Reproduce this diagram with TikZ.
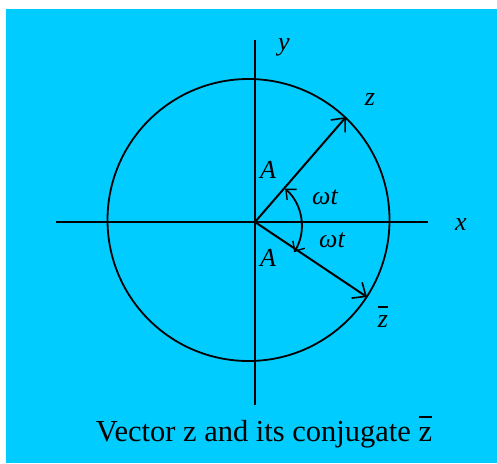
\documentclass[tikz,border=0pt]{standalone}
\usepackage{fontspec}
\setmainfont{Liberation Serif}
\usetikzlibrary{arrows.meta,calc}
\definecolor{bgcyan}{HTML}{00CCFF}
\newcommand\myzbar{\ooalign{z\cr\hidewidth\raisebox{0.78em}{\rule{0.42em}{0.05em}}\hidewidth\cr}}
\begin{document}
\begin{tikzpicture}[x=1pt,y=-1pt,
  axis/.style={line width=2.2pt,black},
  vec/.style={line width=2pt,black,-{Straight Barb[length=11pt,width=19pt,line width=1.6pt]}},
  lbl/.style={font=\fontsize{26}{28}\selectfont\itshape,inner sep=0pt,text=black},
  captext/.style={font=\fontsize{30.5}{32}\selectfont,inner sep=0pt,text=black}]
\useasboundingbox (0,0) rectangle (497,463);
\fill[white] (0,0) rectangle (497,463);
\fill[bgcyan] (6,9) rectangle (497,463);
\coordinate (O) at (255,222);
\coordinate (C) at (248.5,220);
\coordinate (XL) at (56,222);
\coordinate (XR) at (428,222);
\coordinate (YT) at (255,40);
\coordinate (YB) at (255,405);
\coordinate (Z) at (346,117);
\coordinate (Zb) at (367,297);
\draw[line width=1.8pt] (C) circle[radius=141];
\draw[axis] (XL) -- (XR);
\draw[axis] (YT) -- (YB);
\draw[vec] (O) -- (Z);
\draw[vec] (O) -- (Zb);
\draw[line width=1.8pt,{Straight Barb[length=8pt,width=14pt,line width=1.4pt]}-{Straight Barb[length=8pt,width=14pt,line width=1.4pt]}]
  ($(O)+(-48:45)$) arc[start angle=-48, end angle=32, radius=50];
\node[lbl] (lx) at (461,225) {x};
\node[lbl] (ly) at (284,47) {y};
\node[lbl] (lz) at (370,100) {z};
\node[lbl] (lzb) at (383,322) {\myzbar};
\node[lbl] (la1) at (268,170) {A};
\node[lbl] (la2) at (268,258) {A};
\node[lbl] (lw1) at (325,197) {ωt};
\node[lbl] (lw2) at (332,240) {ωt};
\node[captext] (caption) at (264,434) {Vector z and its conjugate \myzbar};
\end{tikzpicture}
\end{document}
